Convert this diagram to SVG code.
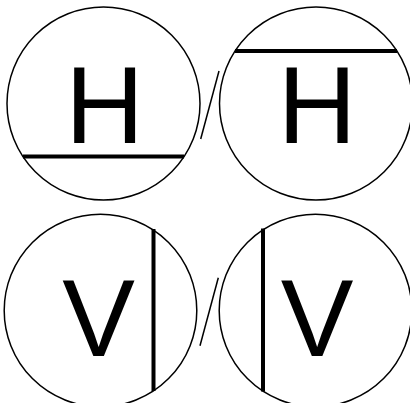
<svg xmlns="http://www.w3.org/2000/svg" width="410" height="403" viewBox="0 0 410 403">
<style>
.c{fill:#fff;stroke:#000;stroke-width:1.5}
.bar{stroke:#000;stroke-width:4;fill:none}
.sl{stroke:#000;stroke-width:1.5;fill:none}
.t{font-family:"Liberation Sans",Arial,sans-serif;font-size:109px;fill:#000;text-anchor:middle}
</style>
<rect width="410" height="403" fill="#fff"/>
<g id="h-bottom">
<circle class="c" cx="103.5" cy="103.5" r="96.5"/>
<text class="t" x="104.5" y="142.7">H</text>
<line class="bar" x1="23" y1="156.5" x2="184" y2="156.5"/>
</g>
<g id="h-top">
<circle class="c" cx="316" cy="103.5" r="96.5"/>
<text class="t" x="317" y="143.3">H</text>
<line class="bar" x1="235" y1="51" x2="397" y2="51"/>
</g>
<g id="v-right">
<circle class="c" cx="100.5" cy="310.5" r="96.3"/>
<text class="t" x="98.7" y="356">V</text>
<line class="bar" x1="153.5" y1="229" x2="153.5" y2="391"/>
</g>
<g id="v-left">
<circle class="c" cx="315.5" cy="310.5" r="96.3"/>
<text class="t" x="317" y="356">V</text>
<line class="bar" x1="263" y1="228.5" x2="263" y2="391.5"/>
</g>
<g id="connectors">
<line class="sl" x1="219" y1="71" x2="200.7" y2="139"/>
<line class="sl" x1="218.3" y1="277.7" x2="200" y2="345.7"/>
</g>
</svg>
